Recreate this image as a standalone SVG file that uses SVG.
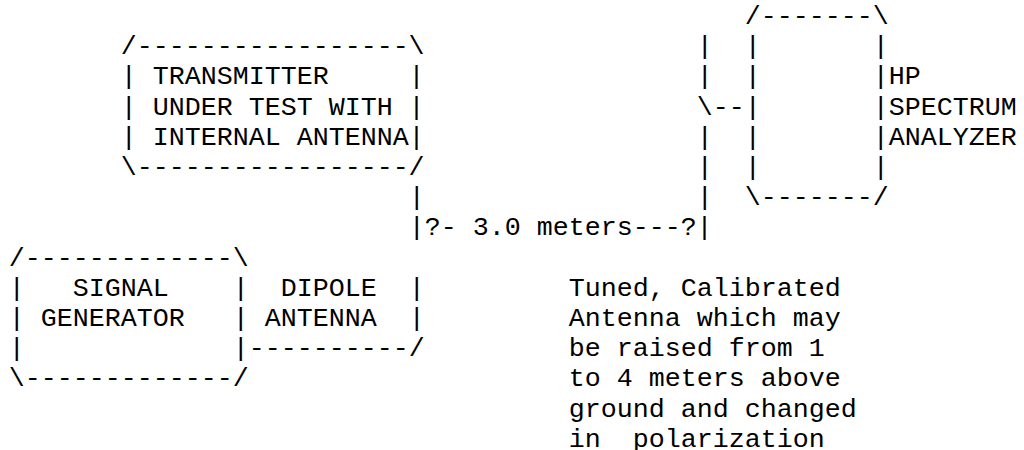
<svg xmlns="http://www.w3.org/2000/svg" width="1024" height="450" viewBox="0 0 1024 450">
<style>
text { font-family: "Liberation Mono", "Courier New", "DejaVu Sans Mono", monospace; font-size: 26.67px; fill: #000; white-space: pre; }
</style>
<rect width="1024" height="450" fill="#fff"/>
<g id="transmitter">
<text x="120.7" y="54.2" xml:space="preserve">/-----------------\</text>
<text x="120.7" y="84.4" xml:space="preserve">| TRANSMITTER     |</text>
<text x="120.7" y="114.6" xml:space="preserve">| UNDER TEST WITH |</text>
<text x="120.7" y="144.8" xml:space="preserve">| INTERNAL ANTENNA|</text>
<text x="120.7" y="175" xml:space="preserve">\-----------------/</text>
</g>
<g id="spectrum-analyzer">
<text x="744.7" y="24" xml:space="preserve">/-------\</text>
<text x="744.7" y="54.2" xml:space="preserve">|       |</text>
<text x="744.7" y="84.4" xml:space="preserve">|       |HP</text>
<text x="744.7" y="114.6" xml:space="preserve">|       |SPECTRUM</text>
<text x="744.7" y="144.8" xml:space="preserve">|       |ANALYZER</text>
<text x="744.7" y="175" xml:space="preserve">|       |</text>
<text x="744.7" y="205.2" xml:space="preserve">\-------/</text>
</g>
<g id="signal-generator">
<text x="8.7" y="265.6" xml:space="preserve">/-------------\</text>
<text x="8.7" y="295.8" xml:space="preserve">|   SIGNAL    |</text>
<text x="8.7" y="326" xml:space="preserve">| GENERATOR   |</text>
<text x="8.7" y="356.2" xml:space="preserve">|             |</text>
<text x="8.7" y="386.4" xml:space="preserve">\-------------/</text>
</g>
<g id="dipole-antenna">
<text x="248.7" y="295.8" xml:space="preserve">  DIPOLE  |</text>
<text x="248.7" y="326" xml:space="preserve"> ANTENNA  |</text>
<text x="248.7" y="356.2" xml:space="preserve">----------/</text>
</g>
<g id="connectors">
<text x="696.7" y="54.2">|</text>
<text x="696.7" y="84.4">|</text>
<text x="696.7" y="114.6" xml:space="preserve">\--</text>
<text x="696.7" y="144.8">|</text>
<text x="696.7" y="175">|</text>
<text x="696.7" y="205.2">|</text>
<text x="408.7" y="205.2">|</text>
<text x="408.7" y="235.4" xml:space="preserve">|?- 3.0 meters---?|</text>
</g>
<g id="antenna-note">
<text x="568.7" y="295.8" xml:space="preserve">Tuned, Calibrated</text>
<text x="568.7" y="326" xml:space="preserve">Antenna which may</text>
<text x="568.7" y="356.2" xml:space="preserve">be raised from 1</text>
<text x="568.7" y="386.4" xml:space="preserve">to 4 meters above</text>
<text x="568.7" y="416.6" xml:space="preserve">ground and changed</text>
<text x="568.7" y="446.8" xml:space="preserve">in  polarization</text>
</g>
</svg>
